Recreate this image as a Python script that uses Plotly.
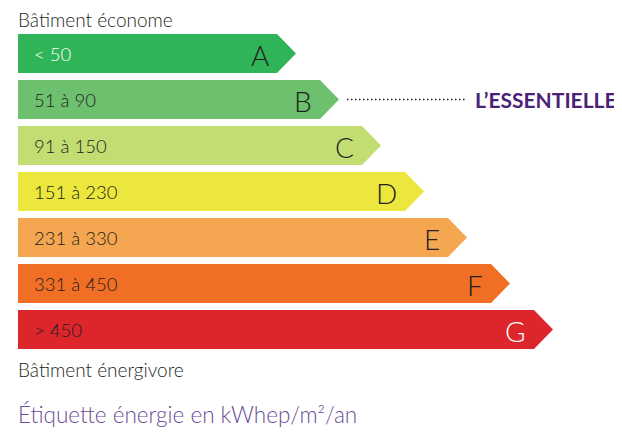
import plotly.graph_objects as go

letters = ["A", "B", "C", "D", "E", "F", "G"]
ranges = ["< 50", "51 à 90", "91 à 150", "151 à 230", "231 à 330", "331 à 450", "> 450"]
lengths = [278, 321, 363, 406, 449, 492, 535]
colors = ["#2fb458", "#6dc06e", "#c2dd72", "#ebe73c", "#f5a650", "#f16f25", "#dd262c"]
letter_colors = ["#231f20"] * 6 + ["#ffffff"]
range_colors = ["#ffffff"] + ["#231f20"] * 6

TIP = 19
HALF = 0.424
FONT = "Lato, 'Open Sans', sans-serif"
SHIFT_Y = 8 / 46.0

fig = go.Figure()
for i, (L, c) in enumerate(zip(lengths, colors)):
    xs = [0, L - TIP, L, L - TIP, 0, 0]
    ys = [i - HALF, i - HALF, i, i + HALF, i + HALF, i - HALF]
    fig.add_trace(go.Scatter(x=xs, y=ys, fill="toself", fillcolor=c, mode="lines",
                             line=dict(width=0, color=c), hoverinfo="skip", showlegend=False))
    fig.add_annotation(x=14, y=i + 0.02, text=ranges[i], showarrow=False, xanchor="left", yanchor="middle",
                       font=dict(family=FONT, size=18.5, color=range_colors[i], weight=300))
    fig.add_annotation(x=L - TIP - 6, y=i + 0.03, text=letters[i], showarrow=False, xanchor="right",
                       yanchor="middle", font=dict(family=FONT, size=28, color=letter_colors[i], weight=300))

# dotted leader to L'ESSENTIELLE
fig.add_trace(go.Scatter(x=[lengths[1] + 8, 449], y=[1, 1], mode="lines",
                         line=dict(color="#231f20", width=1.5, dash="1.5px,2.5px"),
                         hoverinfo="skip", showlegend=False))
fig.add_annotation(x=601, y=1, text="<b>L’ESSENTIELLE</b>", showarrow=False, xanchor="right",
                   yanchor="middle", font=dict(family=FONT, size=21, color="#4b2177"))

fig.add_annotation(x=-2, y=-0.74, text="Bâtiment économe", showarrow=False, xanchor="left",
                   yanchor="middle", font=dict(family=FONT, size=19, color="#231f20", weight=300))
fig.add_annotation(x=-2, y=6.86, text="Bâtiment énergivore", showarrow=False, xanchor="left",
                   yanchor="middle", font=dict(family=FONT, size=19, color="#231f20", weight=300))
fig.add_annotation(x=-2, y=7.84, text="Étiquette énergie en kWhep/m²/an", showarrow=False, xanchor="left",
                   yanchor="middle", font=dict(family=FONT, size=22.5, color="#6a4d98", weight=300))

fig.update_layout(
    width=622, height=434, margin=dict(l=0, r=0, t=0, b=0),
    paper_bgcolor="white", plot_bgcolor="white",
    xaxis=dict(range=[-10, 612], visible=False, fixedrange=True),
    yaxis=dict(range=[8.272 + SHIFT_Y, -1.163 + SHIFT_Y], visible=False, fixedrange=True),
)
fig.write_html("out.html")
